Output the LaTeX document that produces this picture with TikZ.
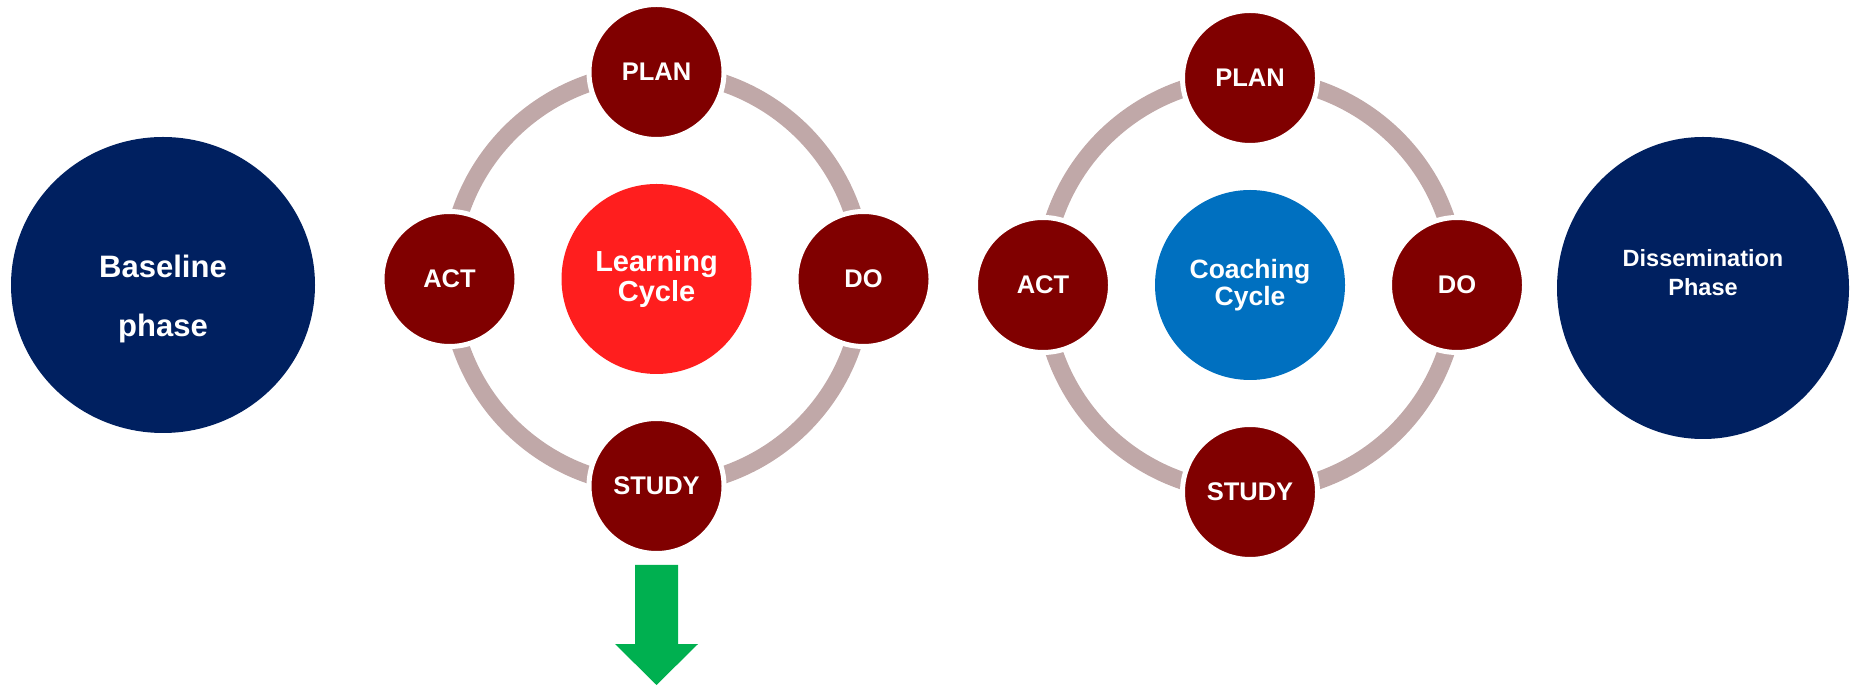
\documentclass[tikz,border=0pt]{standalone}
\usepackage{fontspec}
\setmainfont{Liberation Sans}
\usetikzlibrary{shapes.geometric,backgrounds}

\definecolor{phasenavy}{RGB}{0,32,96}
\definecolor{stepmaroon}{RGB}{128,0,0}
\definecolor{learnred}{RGB}{255,30,30}
\definecolor{coachblue}{RGB}{0,112,192}
\definecolor{ringgrey}{RGB}{192,168,168}
\definecolor{arrowgreen}{RGB}{0,176,80}

\begin{document}
\begin{tikzpicture}[x=1pt,y=1pt,
  phasebox/.style={ellipse, fill=phasenavy, inner sep=0pt},
  phasetext/.style={anchor=base, text=white, inner sep=0pt},
  stepbox/.style={circle, fill=stepmaroon, draw=white, line width=5pt,
    minimum size=135pt, inner sep=0pt, text=white,
    font=\fontsize{25.5}{26}\selectfont\bfseries},
  hubbox/.style={circle, minimum size=190pt, inner sep=0pt, text=white, align=center},
  ringarc/.style={draw=ringgrey, line width=17.5pt, bend left=45}
]
\useasboundingbox (0,0) rectangle (1851,685);

% outer phases
\node[phasebox, minimum width=304pt, minimum height=296pt] (baseline) at (163,400) {};
\node[phasetext, font=\fontsize{31}{31}\selectfont\bfseries] (baselineA) at (163,407) {Baseline};
\node[phasetext, font=\fontsize{31}{31}\selectfont\bfseries] (baselineB) at (163,348) {phase};

\node[phasebox, minimum width=292pt, minimum height=302pt] (dissem) at (1703,397) {};
\node[phasetext, font=\fontsize{23.5}{24}\selectfont\bfseries] (dissemA) at (1703,418) {Dissemination};
\node[phasetext, font=\fontsize{23.5}{24}\selectfont\bfseries] (dissemB) at (1703,389) {Phase};

% learning cycle
\node[hubbox, fill=learnred, font=\fontsize{29}{30}\selectfont\bfseries] (learn) at (656.5,406) {Learning\\Cycle};
\node[stepbox] (lplan)  at (656.5,613) {PLAN};
\node[stepbox] (ldo)    at (863.5,406) {DO};
\node[stepbox] (lstudy) at (656.5,199) {STUDY};
\node[stepbox] (lact)   at (449.5,406) {ACT};

% coaching cycle
\node[hubbox, fill=coachblue, font=\fontsize{26.5}{27}\selectfont\bfseries] (coach) at (1250,400) {Coaching\\Cycle};
\node[stepbox] (cplan)  at (1250,607) {PLAN};
\node[stepbox] (cdo)    at (1457,400) {DO};
\node[stepbox] (cstudy) at (1250,193) {STUDY};
\node[stepbox] (cact)   at (1043,400) {ACT};

% rings behind the steps
\begin{scope}[on background layer]
  \draw[ringarc] (lplan.center) to (ldo.center);
  \draw[ringarc] (ldo.center) to (lstudy.center);
  \draw[ringarc] (lstudy.center) to (lact.center);
  \draw[ringarc] (lact.center) to (lplan.center);
  \draw[ringarc] (cplan.center) to (cdo.center);
  \draw[ringarc] (cdo.center) to (cstudy.center);
  \draw[ringarc] (cstudy.center) to (cact.center);
  \draw[ringarc] (cact.center) to (cplan.center);
\end{scope}

% downward arrow below the learning cycle
\fill[arrowgreen] (635,120) -- (678,120) -- (678,41) -- (698,41) -- (656.5,0)
  -- (615,41) -- (635,41) -- cycle;
\end{tikzpicture}
\end{document}
